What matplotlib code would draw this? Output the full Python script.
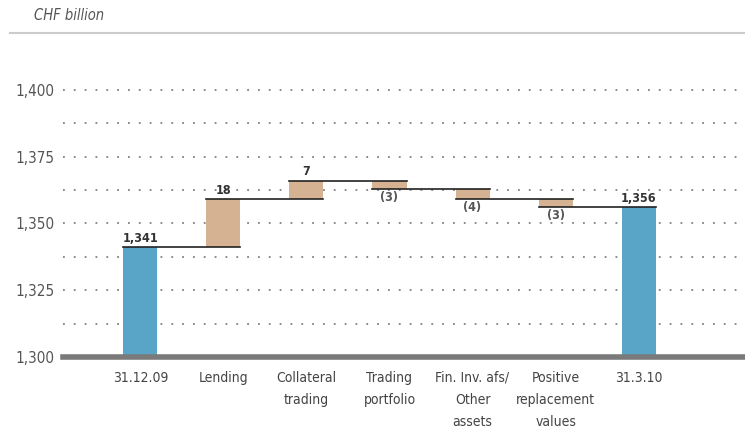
import matplotlib.pyplot as plt
from matplotlib.lines import Line2D

categories = ["31.12.09", "Lending", "Collateral\ntrading", "Trading\nportfolio",
              "Fin. Inv. afs/\nOther\nassets", "Positive\nreplacement\nvalues", "31.3.10"]
start_value = 1341
changes = [18, 7, -3, -4, -3]
end_value = 1356
change_labels = ["18", "7", "(3)", "(4)", "(3)"]
yticks = [1300, 1325, 1350, 1375, 1400]

blue = "#58a5c8"
tan = "#d5b291"
dark = "#333333"
grey = "#555555"
plt.rcParams['font.family'] = ['DejaVu Sans']
plt.rcParams['font.stretch'] = 'condensed'

fig = plt.figure(figsize=(7.45, 4.33), dpi=100)
ax = fig.add_axes([0.0846, 0.1755, 0.9154, 0.679])

w = 0.41
base = 1300
# levels after each step
levels = [start_value]
for c in changes:
    levels.append(levels[-1] + c)

# start bar
ax.bar(0, start_value - base, bottom=base, width=w, color=blue, zorder=3)
ax.text(0, start_value + 0.8, "1,341", ha="center", va="bottom", fontsize=9,
        fontweight="bold", color=dark)
for i, c in enumerate(changes):
    x = i + 1
    lo = min(levels[i], levels[i + 1])
    ax.bar(x, abs(c), bottom=lo, width=w, color=tan, zorder=3)
    if c > 0:
        ax.text(x, levels[i + 1] + 0.8, change_labels[i], ha="center", va="bottom",
                fontsize=9, fontweight="bold", color=dark)
    else:
        ax.text(x, levels[i + 1] - 0.8, change_labels[i], ha="center", va="top",
                fontsize=9, fontweight="bold", color=grey)
ax.bar(6, end_value - base, bottom=base, width=w, color=blue, zorder=3)
ax.text(6, end_value + 0.8, "1,356", ha="center", va="bottom", fontsize=9,
        fontweight="bold", color=dark)

# connector lines: from left edge of bar i to right edge of bar i+1
all_levels = levels + [end_value]
for i in range(6):
    ax.plot([i - w / 2, i + 1 + w / 2], [all_levels[i], all_levels[i]],
            color="#222222", lw=1.2, zorder=4)

ax.set_xlim(-0.93, 7.28)
ax.set_ylim(1300, 1410)

# dotted gridlines
for y in [1312.5, 1325, 1337.5, 1350, 1362.5, 1375, 1387.5, 1400]:
    ax.axhline(y, color="#808080", lw=1.3, linestyle=(0, (1, 5)), zorder=1)
ax.axhline(1300, color="#7a7a7a", lw=4, zorder=5, clip_on=False)

ax.set_yticks(yticks)
ax.set_yticklabels([f"{v:,}" for v in yticks], fontsize=11, color=grey)
ax.set_xticks(range(7))
ax.set_xticklabels(categories, fontsize=10, color="#444444", linespacing=1.72, va="top")
ax.tick_params(axis="both", length=0)
ax.tick_params(axis="x", pad=10)
ax.tick_params(axis="y", pad=6)
for s in ax.spines.values():
    s.set_visible(False)

fig.text(0.045, 0.965, "CHF billion", fontsize=10.5, style="italic", color=grey,
         ha="left", va="center")
fig.add_artist(Line2D([0.013, 1.0], [0.923, 0.923], color="#cccccc", lw=1.5))

fig.savefig("out.png", dpi=100)
